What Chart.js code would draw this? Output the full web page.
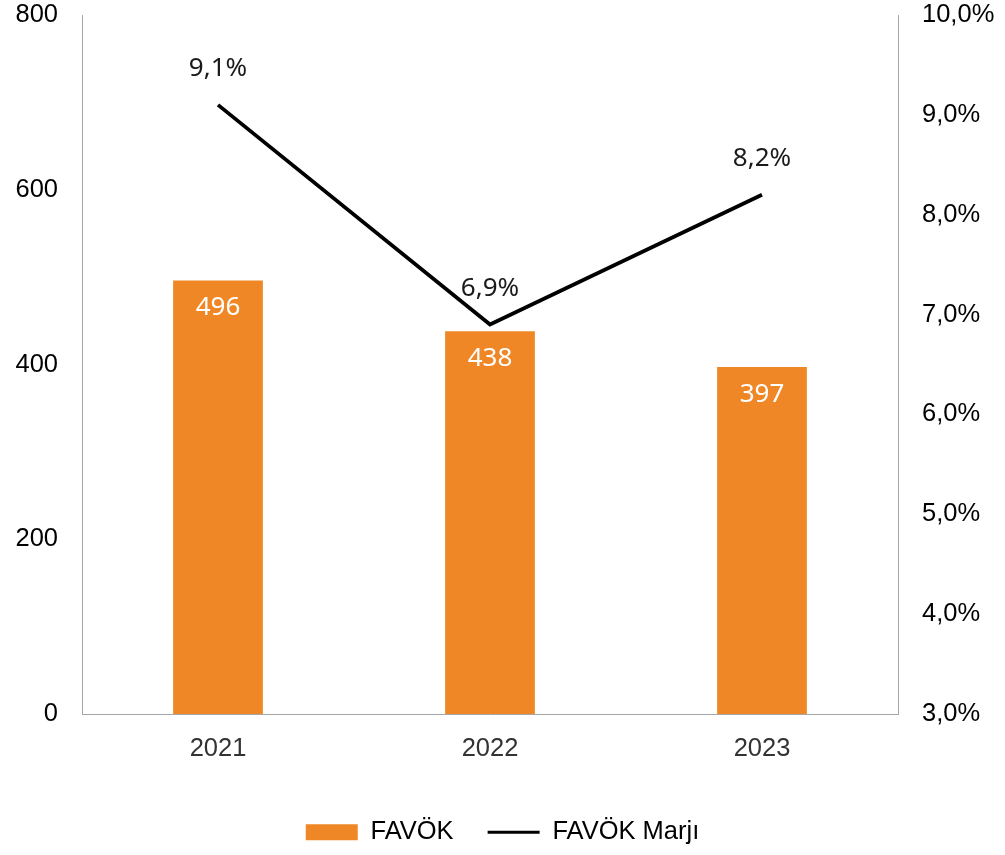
<!DOCTYPE html>
<html>
<head>
<meta charset="utf-8">
<script src="https://cdn.jsdelivr.net/npm/chart.js@4"></script>
<style>
  html, body { margin: 0; padding: 0; background: #ffffff; }
  canvas { display: block; }
</style>
</head>
<body>
<canvas id="c" width="1005" height="855"></canvas>
<script>
const categories = ['2021', '2022', '2023'];
const favokValues = [496, 438, 397];
const marginValues = [9.1, 6.9, 8.2];
const leftTicks = [0, 200, 400, 600, 800];
const rightTicks = [3, 4, 5, 6, 7, 8, 9, 10];
const seriesNames = ['FAVÖK', 'FAVÖK Marjı'];

const ORANGE = '#F08726';
const AXIS_FONT = { family: '"Liberation Sans", Arial, sans-serif', size: 25.5 };
const LABEL_FONT = '400 26px "Noto Sans", "Open Sans", sans-serif';

const fmtPct = v => v.toFixed(1).replace('.', ',') + '%';

const dataLabels = {
  id: 'dataLabels',
  afterDatasetsDraw(chart) {
    const ctx = chart.ctx;
    ctx.save();
    ctx.font = LABEL_FONT;
    ctx.textAlign = 'center';
    ctx.textBaseline = 'middle';
    const barMeta = chart.getDatasetMeta(0);
    barMeta.data.forEach((el, i) => {
      ctx.fillStyle = '#ffffff';
      ctx.fillText(String(favokValues[i]), el.x, el.y + 27);
    });
    const lineMeta = chart.getDatasetMeta(1);
    lineMeta.data.forEach((el, i) => {
      ctx.fillStyle = '#1a1a1a';
      ctx.fillText(fmtPct(marginValues[i]), el.x, el.y - 36);
    });
    ctx.restore();
  }
};

const noPad = s => { s.paddingTop = 0; s.paddingBottom = 0; };

new Chart(document.getElementById('c'), {
  data: {
    labels: categories,
    datasets: [
      {
        type: 'bar',
        label: seriesNames[0],
        data: favokValues,
        backgroundColor: ORANGE,
        borderWidth: 0,
        yAxisID: 'y',
        categoryPercentage: 1,
        barPercentage: 0.33,
        order: 1
      },
      {
        type: 'line',
        label: seriesNames[1],
        data: marginValues,
        borderColor: '#000000',
        backgroundColor: '#000000',
        borderWidth: 3.8,
        pointRadius: 0,
        tension: 0,
        yAxisID: 'y1',
        order: 0
      }
    ]
  },
  options: {
    responsive: false,
    animation: false,
    layout: { padding: { top: 15, left: 0, right: 0, bottom: 0 } },
    plugins: {
      tooltip: { enabled: false },
      legend: {
        position: 'bottom',
        labels: {
          usePointStyle: true,
          pointStyleWidth: 52,
          boxHeight: 16,
          padding: 34,
          color: '#000000',
          font: AXIS_FONT,
          sort: (a, b) => a.datasetIndex - b.datasetIndex,
          generateLabels(chart) {
            const items = Chart.defaults.plugins.legend.labels.generateLabels(chart);
            items.forEach(it => {
              if (it.datasetIndex === 0) {
                it.pointStyle = 'rect';
                it.fillStyle = ORANGE;
                it.strokeStyle = ORANGE;
                it.lineWidth = 0;
              } else {
                it.pointStyle = 'line';
                it.fillStyle = '#000000';
                it.strokeStyle = '#000000';
                it.lineWidth = 3;
              }
            });
            return items;
          }
        }
      }
    },
    scales: {
      x: {
        offset: true,
        grid: { display: false },
        border: { display: true, color: '#a6a6a6', width: 1 },
        ticks: { color: '#333333', font: AXIS_FONT, padding: 12 },
        afterFit(s) { s.height = 71.5; }
      },
      y: {
        position: 'left',
        min: 0,
        max: 800,
        grid: { display: false },
        border: { display: true, color: '#a6a6a6', width: 1 },
        afterBuildTicks(s) { s.ticks = leftTicks.map(v => ({ value: v })); },
        ticks: { color: '#000000', font: AXIS_FONT, padding: 16 },
        afterFit(s) { s.width = 82; noPad(s); }
      },
      y1: {
        position: 'right',
        min: 3,
        max: 10,
        grid: { display: false },
        border: { display: true, color: '#a6a6a6', width: 1 },
        afterBuildTicks(s) { s.ticks = rightTicks.map(v => ({ value: v })); },
        ticks: { color: '#000000', font: AXIS_FONT, padding: 16, callback: v => fmtPct(v) },
        afterFit(s) { s.width = 107; noPad(s); }
      }
    }
  },
  plugins: [dataLabels]
});
</script>
</body>
</html>
